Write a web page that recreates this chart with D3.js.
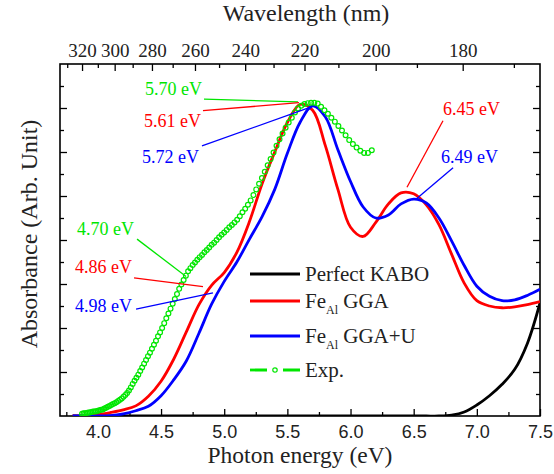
<!DOCTYPE html>
<html>
<head>
<meta charset="utf-8">
<script src="https://cdn.jsdelivr.net/npm/d3@7"></script>
<style>
  body { margin: 0; background: #fff; }
  svg text { font-family: "Liberation Serif", "Times New Roman", "DejaVu Serif", serif; fill: #222; }
  svg text.sans { font-family: "Liberation Sans", Arial, Helvetica, sans-serif; }
</style>
</head>
<body>
<div id="chart"></div>
<script>
// photon energy grid (eV) for the calculated spectra
var energies = [3.8, 3.9, 4.0, 4.1, 4.2, 4.3, 4.4, 4.5, 4.6, 4.7, 4.8, 4.9, 5.0, 5.1, 5.2, 5.3, 5.4, 5.5, 5.6,
    5.7, 5.8, 5.9, 6.0, 6.1, 6.2, 6.3, 6.4, 6.5, 6.6, 6.7, 6.8, 6.9, 7.0, 7.1, 7.2, 7.3, 7.4, 7.5];

var kaboAbs = [0, 0, 0, 0, 0, 0, 0, 0, 0, 0, 0, 0, 0, 0, 0, 0, 0, 0, 0,
    0, 0, 0, 0, 0, 0, 0, 0, 0, 0, 0, 0.02, 0.09, 0.25, 0.46, 0.72, 1.06, 1.65, 2.57];

var ggaAbs = [0, 0, 0.03, 0.08, 0.14, 0.23, 0.45, 0.79, 1.29, 1.91, 2.53, 2.97, 3.26, 3.72, 4.42, 5.28, 6.0, 6.67, 7.08,
    6.95, 6.15, 5.15, 4.29, 4.08, 4.4, 4.82, 5.07, 5.05, 4.8, 4.35, 3.68, 3.02, 2.62, 2.5, 2.46, 2.48, 2.53, 2.6];

var ggaUAbs = [0, 0, 0, 0.01, 0.05, 0.12, 0.22, 0.46, 0.82, 1.25, 1.88, 2.54, 3.06, 3.5, 4.02, 4.53, 5.15, 5.97, 6.67,
    7.05, 6.8, 6.05, 5.33, 4.75, 4.5, 4.57, 4.82, 4.93, 4.84, 4.5, 3.98, 3.42, 2.95, 2.72, 2.62, 2.64, 2.74, 2.88];

// experimental spectrum, one point per nm
var expWavelengths = [320, 319, 318, 317, 316, 315, 314, 313, 312, 311, 310, 309, 308, 307, 306, 305, 304, 303, 302, 301,
    300, 299, 298, 297, 296, 295, 294, 293, 292, 291, 290, 289, 288, 287, 286, 285, 284, 283, 282, 281,
    280, 279, 278, 277, 276, 275, 274, 273, 272, 271, 270, 269, 268, 267, 266, 265, 264, 263, 262, 261,
    260, 259, 258, 257, 256, 255, 254, 253, 252, 251, 250, 249, 248, 247, 246, 245, 244, 243, 242, 241,
    240, 239, 238, 237, 236, 235, 234, 233, 232, 231, 230, 229, 228, 227, 226, 225, 224, 223, 222, 221,
    220, 219, 218, 217, 216, 215, 214, 213, 212, 211, 210, 209, 208, 207, 206, 205, 204, 203, 202, 201];

var expAbs = [0.05, 0.06, 0.06, 0.07, 0.08, 0.08, 0.09, 0.10, 0.10, 0.11, 0.12, 0.13, 0.14, 0.15, 0.17, 0.19, 0.21, 0.23, 0.25, 0.27,
    0.29, 0.31, 0.34, 0.37, 0.40, 0.44, 0.48, 0.52, 0.58, 0.65, 0.73, 0.80, 0.87, 0.94, 1.02, 1.10, 1.19, 1.27, 1.36, 1.44,
    1.53, 1.62, 1.71, 1.81, 1.90, 2.00, 2.11, 2.22, 2.33, 2.44, 2.55, 2.66, 2.77, 2.89, 2.99, 3.09, 3.19, 3.29, 3.36, 3.43,
    3.49, 3.55, 3.61, 3.66, 3.72, 3.77, 3.83, 3.89, 3.94, 4.00, 4.06, 4.12, 4.17, 4.23, 4.29, 4.34, 4.40, 4.46, 4.54, 4.63,
    4.71, 4.80, 4.90, 5.02, 5.15, 5.28, 5.41, 5.55, 5.70, 5.84, 5.99, 6.14, 6.29, 6.42, 6.55, 6.67, 6.78, 6.90, 6.99, 7.05,
    7.09, 7.11, 7.12, 7.12, 7.10, 7.03, 6.95, 6.87, 6.78, 6.69, 6.59, 6.49, 6.38, 6.27, 6.18, 6.10, 6.03, 5.98, 5.98, 6.04];

// axis ticks
var energyTicks = [4.0, 4.5, 5.0, 5.5, 6.0, 6.5, 7.0, 7.5];
var energyMinorTicks = [3.75, 4.25, 4.75, 5.25, 5.75, 6.25, 6.75, 7.25];
var wavelengthTicks = [320, 300, 280, 260, 240, 220, 200, 180];
var wavelengthMinorTicks = [330, 310, 290, 270, 250, 230, 210, 190, 170];
var absTicks = [1, 2, 3, 4, 5, 6, 7];
var absMinorTicks = [0.5, 1.5, 2.5, 3.5, 4.5, 5.5, 6.5, 7.5];

// peak labels: text, colour, label anchor and leader line (in eV / absorbance units)
var peakLabels = ["5.70 eV", "5.61 eV", "5.72 eV", "4.70 eV", "4.86 eV", "4.98 eV", "6.45 eV", "6.49 eV"];
var peakColors = ["#00e600", "red", "blue", "#00e600", "red", "blue", "red", "blue"];
var peakTextAt = [[4.373, 7.30], [4.365, 6.57], [4.349, 5.75], [3.835, 4.11], [3.819, 3.26], [3.819, 2.37], [6.732, 6.84], [6.717, 5.75]];
var peakLineFrom = [[4.84, 7.20], [4.832, 6.94], [4.824, 6.14], [4.31, 4.02], [4.286, 3.14], [4.302, 2.43], [6.732, 6.71], [6.812, 5.64]];
var peakLineTo = [[5.584, 7.14], [5.592, 7.12], [5.695, 7.03], [4.698, 3.17], [4.832, 2.94], [4.911, 2.80], [6.447, 5.20], [6.527, 4.95]];

var legendNames = ["Perfect KABO", "Fe", "Fe", "Exp."];
var legendSubs = ["", "Al", "Al", ""];
var legendTails = ["", " GGA", " GGA+U", ""];
var legendColors = ["black", "red", "blue", "#00e600"];

var margins = {top: 64, right: 14, bottom: 58, left: 60},
    width = 554 - margins.left - margins.right,
    height = 474 - margins.top - margins.bottom;

var x = d3.scaleLinear().domain([3.7, 7.5]).range([0, width]);
var y = d3.scaleLinear().domain([0, 8]).range([height, 0]);
// wavelength axis: E = 1239.84 / lambda, so x is linear in 1/lambda
var xTop = d3.scalePow().exponent(-1).domain([1239.84 / 3.7, 1239.84 / 7.5]).range([0, width]);

var svg = d3.select("#chart").append("svg")
    .attr("width", 554)
    .attr("height", 474);

var g = svg.append("g")
    .attr("transform", "translate(" + margins.left + "," + margins.top + ")");

g.append("clipPath").attr("id", "plot-clip")
    .append("rect").attr("width", width).attr("height", height);

/*
 * Axes
 */
function styleAxis(sel) {
    sel.attr("font-family", null).attr("font-size", null);
    sel.select(".domain").remove();
    sel.selectAll(".tick line").attr("stroke", "#000").attr("stroke-width", 1.3);
    sel.selectAll(".tick text").attr("fill", null);
}

g.append("g").attr("transform", "translate(0," + height + ")")
    .call(d3.axisBottom(x).tickValues(energyTicks).tickSize(-7).tickPadding(9).tickFormat(d3.format(".1f")))
    .call(styleAxis)
    .selectAll("text").attr("class", "sans").style("font-size", "18px");
g.append("g").attr("transform", "translate(0," + height + ")")
    .call(d3.axisBottom(x).tickValues(energyMinorTicks).tickSize(-4).tickFormat(""))
    .call(styleAxis);

g.append("g")
    .call(d3.axisTop(xTop).tickValues(wavelengthTicks).tickSize(-7).tickPadding(7).tickFormat(d3.format("d")))
    .call(styleAxis)
    .selectAll("text").style("font-size", "19px");
g.append("g")
    .call(d3.axisTop(xTop).tickValues(wavelengthMinorTicks).tickSize(-4).tickFormat(""))
    .call(styleAxis);

g.append("g").call(d3.axisLeft(y).tickValues(absTicks).tickSize(-7).tickFormat("")).call(styleAxis);
g.append("g").call(d3.axisLeft(y).tickValues(absMinorTicks).tickSize(-4).tickFormat("")).call(styleAxis);
g.append("g").attr("transform", "translate(" + width + ",0)")
    .call(d3.axisRight(y).tickValues(absTicks).tickSize(-7).tickFormat("")).call(styleAxis);
g.append("g").attr("transform", "translate(" + width + ",0)")
    .call(d3.axisRight(y).tickValues(absMinorTicks).tickSize(-4).tickFormat("")).call(styleAxis);

g.append("rect")
    .attr("width", width)
    .attr("height", height)
    .attr("fill", "none")
    .attr("stroke", "#000")
    .attr("stroke-width", 1.6);

// axis titles
svg.append("text")
    .attr("x", margins.left + width / 2)
    .attr("y", 463)
    .attr("text-anchor", "middle")
    .style("font-size", "23.5px")
    .text("Photon energy (eV)");

svg.append("text")
    .attr("x", margins.left + width / 2 + 6)
    .attr("y", 21)
    .attr("text-anchor", "middle")
    .style("font-size", "24px")
    .text("Wavelength (nm)");

svg.append("text")
    .attr("transform", "translate(37," + (margins.top + 170) + ") rotate(-90)")
    .attr("text-anchor", "middle")
    .style("font-size", "24px")
    .text("Absorbance (Arb. Unit)");

/*
 * Curves
 */
var plot = g.append("g").attr("clip-path", "url(#plot-clip)");

var line = d3.line()
    .x(function(d) { return x(d[0]); })
    .y(function(d) { return y(d[1]); })
    .curve(d3.curveCatmullRom.alpha(0.5));

var curves = [
    {values: kaboAbs, color: "black"},
    {values: ggaAbs, color: "red"},
    {values: ggaUAbs, color: "blue"}
];

curves.forEach(function(c) {
    plot.append("path")
        .datum(energies.map(function(e, i) { return [e, c.values[i]]; }))
        .attr("d", line)
        .attr("fill", "none")
        .attr("stroke", c.color)
        .attr("stroke-width", 2.8);
});

var expPoints = expWavelengths.map(function(w, i) { return [w, expAbs[i]]; });

plot.selectAll("circle.exp")
    .data(expPoints)
    .enter()
    .append("circle")
    .attr("class", "exp")
    .attr("cx", function(d) { return xTop(d[0]); })
    .attr("cy", function(d) { return y(d[1]); })
    .attr("r", 2.4)
    .attr("fill", "none")
    .attr("stroke", "#00e600")
    .attr("stroke-width", 1.2);

/*
 * Peak annotations
 */
peakLabels.forEach(function(label, i) {
    g.append("line")
        .attr("x1", x(peakLineFrom[i][0])).attr("y1", y(peakLineFrom[i][1]))
        .attr("x2", x(peakLineTo[i][0])).attr("y2", y(peakLineTo[i][1]))
        .attr("stroke", peakColors[i])
        .attr("stroke-width", 1.3);
    g.append("text")
        .attr("x", x(peakTextAt[i][0]))
        .attr("y", y(peakTextAt[i][1]))
        .style("font-size", "18px")
        .style("fill", peakColors[i])
        .text(label);
});

/*
 * Legend
 */
var legendRows = [274, 301, 336, 370];
var legend = svg.append("g");

legendNames.forEach(function(name, k) {
    var row = legend.append("g").attr("transform", "translate(250," + legendRows[k] + ")");
    if (k === 3) {
        row.append("line").attr("x1", 0).attr("x2", 50)
            .attr("stroke", legendColors[k]).attr("stroke-width", 2.8)
            .attr("stroke-dasharray", "17,16");
        row.append("circle").attr("cx", 25).attr("r", 2.2)
            .attr("fill", "none").attr("stroke", legendColors[k]).attr("stroke-width", 1.2);
    } else {
        row.append("line").attr("x1", 0).attr("x2", 50)
            .attr("stroke", legendColors[k]).attr("stroke-width", 2.8);
    }
    var t = row.append("text")
        .attr("x", 55).attr("y", 7)
        .style("font-size", "21px");
    t.append("tspan").text(name);
    if (legendSubs[k]) {
        t.append("tspan").attr("dy", 6).style("font-size", "12px").text(legendSubs[k]);
        t.append("tspan").attr("dy", -6).text(legendTails[k]);
    }
});
</script>
</body>
</html>
